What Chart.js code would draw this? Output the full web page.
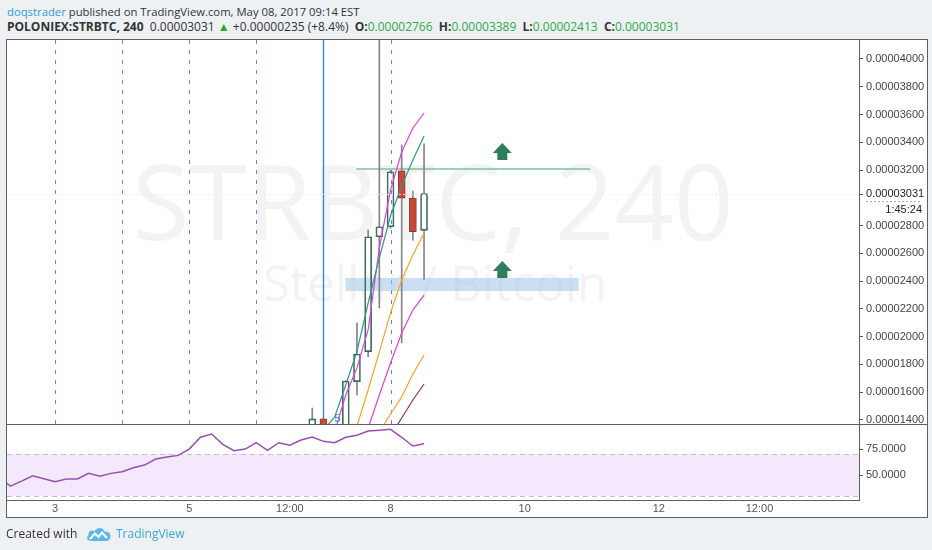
<!DOCTYPE html>
<html>
<head>
<meta charset="utf-8">
<title>POLONIEX:STRBTC, 240</title>
<script src="https://cdn.jsdelivr.net/npm/chart.js@4.4.1/dist/chart.umd.min.js"></script>
<style>
  html, body { margin: 0; padding: 0; }
  body { width: 932px; height: 550px; position: relative; overflow: hidden; background: #eef1f4;
         font-family: "Open Sans", sans-serif; color: #333; }
  .abs { position: absolute; }
  #frame { left: 6px; top: 39px; width: 922px; height: 479px; box-sizing: border-box;
           border: 1px solid #5f5f5f; background: #fff; }
  .hline { height: 1px; background: #5f5f5f; }
  .vline { width: 1px; background: #5f5f5f; }
  #head1, #head2 { left: 7px; line-height: 15px; white-space: nowrap; color: #333; }
  #head1 { top: 4px; font-size: 11.3px; }
  #head2 { top: 19px; font-size: 12px; }
  .user { color: #2f9be0; }
  .g { color: #2eaa4a; }
  .b { font-weight: 700; }
  canvas { position: absolute; left: 0; top: 0; }
  .foot { top: 525px; font-size: 12px; line-height: 18px; white-space: nowrap; color: #333; }
  .tv { color: #3ba5dc; }
  #logo { left: 86px; top: 526px; }
</style>
</head>
<body>
<div id="head1" class="abs"><span class="user">doqstrader</span> published on TradingView.com, May 08, 2017 09:14 EST</div>
<div id="head2" class="abs"><span class="b">POLONIEX:STRBTC, 240</span>&nbsp; 0.00003031 <span style="color:#1fae2a">▲</span> +0.00000235 (+8.4%) &nbsp;<span class="b">O:</span><span class="g">0.00002766</span> &nbsp;<span class="b">H:</span><span class="g">0.00003389</span> &nbsp;<span class="b">L:</span><span class="g">0.00002413</span> &nbsp;<span class="b">C:</span><span class="g">0.00003031</span></div>

<div id="frame" class="abs"></div>
<svg class="abs" style="left:0;top:0" width="932" height="550">
  <text x="433" y="240" text-anchor="middle" font-family="Open Sans" font-size="104" fill="#f3f3f3">STRBTC, 240</text>
  <text x="435" y="301" text-anchor="middle" font-family="Open Sans" font-size="49" fill="#f3f3f3">Stellar / Bitcoin</text>
</svg>
<div class="abs hline" style="left:6px;top:424px;width:922px"></div>
<div class="abs vline" style="left:859px;top:39px;height:462px"></div>
<div class="abs hline" style="left:6px;top:500px;width:854px"></div>

<canvas id="price" width="932" height="550"></canvas>
<canvas id="rsi" width="932" height="550"></canvas>

<div class="abs foot" style="left:6px">Created with</div>
<div class="abs foot tv" style="left:116px">TradingView</div>
<svg id="logo" class="abs" width="26" height="16" viewBox="0 0 26 16">
  <path d="M5 15 C1 15 0 11 2.5 9 C2 5 6 3.5 8.5 5.5 C10 1 17 0.5 18.5 5.5 C23 5 26 9 24 12.5 C23.5 14 22 15 20.5 15 Z" fill="#5cb8e6"/>
  <path d="M4 13 L9 7.5 L12.5 11 L16 6.5 L21 12" fill="none" stroke="#fff" stroke-width="2"/>
</svg>

<script>
// ---- 4h candles (hours since 3 May 2017 00:00), prices in BTC ----
const candleHours = [92, 96, 104, 108, 112, 116, 120, 124, 128, 132];
const candleOpen  = [0.00001352, 0.00001408, 0.00001330, 0.00001676, 0.00001892, 0.00002720, 0.00002792, 0.00003195, 0.00002999, 0.00002766];
const candleHigh  = [0.00001486, 0.00001412, 0.00001684, 0.00002099, 0.00002768, 0.00004500, 0.00003196, 0.00003381, 0.00003049, 0.00003389];
const candleLow   = [0.00001320, 0.00001340, 0.00001300, 0.00001580, 0.00001856, 0.00002207, 0.00002780, 0.00001955, 0.00002696, 0.00002413];
const candleClose = [0.00001408, 0.00001355, 0.00001681, 0.00001875, 0.00002720, 0.00002792, 0.00003188, 0.00002997, 0.00002756, 0.00003031];

// ---- moving-average ribbon ----
const tealHours    = [96, 100, 104, 108, 112, 116, 120, 124, 128, 132];
const tealValues   = [0.00001330, 0.00001420, 0.00001652, 0.00001895, 0.00002242, 0.00002567, 0.00002869, 0.00003085, 0.00003272, 0.00003445];
const magentaHours  = [100, 104, 108, 112, 116, 120, 124, 128, 132];
const magentaValues = [0.00001314, 0.00001580, 0.00001775, 0.00002050, 0.00002639, 0.00003056, 0.00003330, 0.00003503, 0.00003611];
const orangeHours   = [108, 112, 116, 120, 124, 128, 132];
const orangeValues  = [0.00001357, 0.00001616, 0.00001890, 0.00002171, 0.00002408, 0.00002588, 0.00002747];
const magenta2Hours  = [112, 116, 120, 124, 128, 132];
const magenta2Values = [0.00001342, 0.00001580, 0.00001810, 0.00002027, 0.00002192, 0.00002300];
const orange2Hours   = [116, 120, 124, 128, 132];
const orange2Values  = [0.00001314, 0.00001443, 0.00001566, 0.00001731, 0.00001868];
const maroonHours    = [120, 124, 128, 132];
const maroonValues   = [0.00001285, 0.00001414, 0.00001544, 0.00001659];

// ---- RSI ----
const rsiHours  = [-20, -16, -12, -8, -4, 0, 4, 8, 12, 16, 20, 24, 28, 32, 36, 40, 44, 48, 52, 56,
                   60, 64, 68, 72, 76, 80, 84, 88, 92, 96, 100, 104, 108, 112, 116, 120, 124, 128, 132];
const rsiValues = [48.0, 39.4, 44.2, 49.3, 46.4, 43.6, 46.2, 46.2, 51.6, 48.8, 51.6, 53.2, 57.0, 59.6, 65.4, 67.3, 68.9, 75.0, 86.3, 89.4,
                   79.5, 73.4, 75.0, 81.1, 73.8, 81.1, 78.6, 83.7, 86.5, 82.4, 81.1, 86.3, 88.2, 92.3, 93.0, 93.9, 86.3, 77.9, 80.1];
const rsiLevels = [30, 70];
const rsiTicks  = [50, 75];

// ---- time axis ----
const timeTickHours  = [0, 48, 84, 120, 168, 216, 252];
const timeTickLabels = ['3', '5', '12:00', '8', '10', '12', '12:00'];
const sessionHours   = [0, 24, 48, 72, 96, 120];
const sessionSolid   = 96;

// ---- drawings ----
const resistance = { from: 107.8, to: 191.4, price: 0.00003208 };
const supportZone = { from: 103.9, to: 187.3, low: 0.00002329, high: 0.00002423 };
const arrowHours  = [160, 160];
const arrowPrices = [0.00003330, 0.00002480];
const markerText = '5', markerHour = 100.0, markerPrice = 0.00001410;
const lastPrice = 0.00003031, countdown = '1:45:24';

const X_MIN = -17.2, X_MAX = 287.6;
const AXIS_FONT = { family: "'Liberation Sans', Arial, sans-serif", size: 11 };

const pts = (hs, vs) => hs.map((h, i) => ({ x: h, y: vs[i] }));
const up = candleClose.map((c, i) => c >= candleOpen[i]);

const overlays = {
  id: 'overlays',
  beforeDatasetsDraw(chart) {
    const { ctx, chartArea: a, scales: { x, y } } = chart;
    ctx.save();
    ctx.beginPath(); ctx.rect(a.left, a.top, a.right - a.left, a.bottom - a.top); ctx.clip();
    // session separators
    sessionHours.forEach(h => {
      const solid = h === sessionSolid;
      const px = Math.round(x.getPixelForValue(h)) + 0.5;
      ctx.strokeStyle = solid ? '#2f7cf6' : '#5d86d4';
      ctx.lineWidth = solid ? 1.3 : 1;
      ctx.setLineDash(solid ? [] : [4, 6]);
      ctx.beginPath(); ctx.moveTo(px, a.top); ctx.lineTo(px, a.bottom); ctx.stroke();
    });
    ctx.setLineDash([]);
    // support zone
    const zx1 = x.getPixelForValue(supportZone.from), zx2 = x.getPixelForValue(supportZone.to);
    const zy1 = y.getPixelForValue(supportZone.high), zy2 = y.getPixelForValue(supportZone.low);
    ctx.fillStyle = 'rgba(160,196,234,0.55)';
    ctx.fillRect(zx1, zy1, zx2 - zx1, zy2 - zy1);
    // resistance line
    const ry = y.getPixelForValue(resistance.price);
    ctx.strokeStyle = '#79c4a6'; ctx.lineWidth = 1.6;
    ctx.beginPath(); ctx.moveTo(x.getPixelForValue(resistance.from), ry); ctx.lineTo(x.getPixelForValue(resistance.to), ry); ctx.stroke();
    ctx.restore();
  },
  afterDatasetsDraw(chart) {
    const { ctx, chartArea: a, scales: { x, y } } = chart;
    ctx.save();
    ctx.beginPath(); ctx.rect(a.left, a.top, a.right - a.left, a.bottom - a.top); ctx.clip();
    // last price line
    const ly = Math.round(y.getPixelForValue(lastPrice)) + 0.5;
    ctx.strokeStyle = 'rgba(236,236,236,0.9)'; ctx.lineWidth = 1; ctx.setLineDash([2, 2]);
    ctx.beginPath(); ctx.moveTo(a.left, ly); ctx.lineTo(a.right, ly); ctx.stroke();
    ctx.setLineDash([]);
    // arrows
    ctx.fillStyle = '#2f7d5c';
    arrowHours.forEach((h, i) => {
      const cx = x.getPixelForValue(h), cy = y.getPixelForValue(arrowPrices[i]);
      ctx.beginPath();
      ctx.moveTo(cx, cy - 9);
      ctx.lineTo(cx + 9.5, cy + 1);
      ctx.lineTo(cx + 5, cy + 1);
      ctx.lineTo(cx + 5, cy + 8);
      ctx.lineTo(cx - 5, cy + 8);
      ctx.lineTo(cx - 5, cy + 1);
      ctx.lineTo(cx - 9.5, cy + 1);
      ctx.closePath(); ctx.fill();
    });
    // marker label
    ctx.fillStyle = '#3f7fd6';
    ctx.font = "11px 'Liberation Sans', Arial, sans-serif";
    ctx.textBaseline = 'middle';
    ctx.fillText(markerText, x.getPixelForValue(markerHour), y.getPixelForValue(markerPrice));
    ctx.restore();
  },
  afterDraw(chart) {
    const { ctx, chartArea: a, scales: { y } } = chart;
    const py = y.getPixelForValue(lastPrice);
    ctx.save();
    ctx.strokeStyle = '#555'; ctx.lineWidth = 1;
    ctx.beginPath(); ctx.moveTo(a.right, Math.round(py) + 0.5); ctx.lineTo(a.right + 4, Math.round(py) + 0.5); ctx.stroke();
    ctx.font = "11px 'Liberation Sans', Arial, sans-serif";
    ctx.textBaseline = 'middle';
    ctx.fillStyle = '#222';
    ctx.textAlign = 'left';
    ctx.fillText(lastPrice.toFixed(8), a.right + 7, py);
    ctx.textAlign = 'right';
    ctx.fillText(countdown, a.right + 63, py + 16);
    ctx.strokeStyle = '#aaa'; ctx.setLineDash([2, 2]);
    ctx.beginPath(); ctx.moveTo(a.right + 7, Math.round(py) + 7.5); ctx.lineTo(a.right + 63, Math.round(py) + 7.5); ctx.stroke();
    ctx.restore();
  }
};

const lineSet = (hs, vs, color) => ({
  type: 'line', data: pts(hs, vs), borderColor: color, borderWidth: 1.2,
  pointRadius: 0, tension: 0, fill: false, order: 0
});

new Chart(document.getElementById('price'), {
  type: 'bar',
  data: {
    datasets: [
      lineSet(tealHours, tealValues, '#2f9a80'),
      lineSet(magentaHours, magentaValues, '#e43fe6'),
      lineSet(orangeHours, orangeValues, '#f6a524'),
      lineSet(magenta2Hours, magenta2Values, '#e43fe6'),
      lineSet(orange2Hours, orange2Values, '#f6a524'),
      lineSet(maroonHours, maroonValues, '#8e3a46'),
      {
        type: 'bar', order: 1, grouped: false, barThickness: 7, borderWidth: 1, borderSkipped: false,
        data: candleHours.map((h, i) => ({ x: h, y: [candleOpen[i], candleClose[i]] })),
        backgroundColor: up.map(u => u ? 'rgba(255,255,255,0)' : '#c9483a'),
        borderColor: up.map(u => u ? '#3b6d58' : '#8a3a2e')
      },
      {
        type: 'bar', order: 2, grouped: false, barThickness: 1, borderWidth: 0,
        data: candleHours.map((h, i) => ({ x: h, y: [Math.max(candleOpen[i], candleClose[i]), candleHigh[i]] })),
        backgroundColor: '#858585'
      },
      {
        type: 'bar', order: 2, grouped: false, barThickness: 1, borderWidth: 0,
        data: candleHours.map((h, i) => ({ x: h, y: [candleLow[i], Math.min(candleOpen[i], candleClose[i])] })),
        backgroundColor: '#858585'
      }
    ]
  },
  options: {
    responsive: false, animation: false, devicePixelRatio: 1, events: [],
    layout: { padding: { left: 7, top: 40, right: 4, bottom: 126 } },
    plugins: { legend: { display: false }, tooltip: { enabled: false } },
    scales: {
      x: { type: 'linear', min: X_MIN, max: X_MAX, offset: false, display: false },
      y: {
        type: 'linear', position: 'right', min: 0.0000137110, max: 0.0000413680,
        afterFit(s) { s.width = 69; },
        afterBuildTicks(s) { s.ticks = s.ticks.filter(t => Math.abs(t.value - lastPrice) > 0.000001); },
        ticks: { stepSize: 0.000002, includeBounds: false, color: '#444', font: AXIS_FONT, padding: 3,
                 callback: v => v.toFixed(8) },
        grid: { drawOnChartArea: false, tickLength: 4, color: '#555' },
        border: { display: false }
      }
    }
  },
  plugins: [overlays]
});

const rsiBand = {
  id: 'rsiBand',
  beforeDatasetsDraw(chart) {
    const { ctx, chartArea: a, scales: { y } } = chart;
    const y1 = y.getPixelForValue(rsiLevels[1]), y0 = y.getPixelForValue(rsiLevels[0]);
    ctx.save();
    ctx.fillStyle = '#f4e8fc';
    ctx.fillRect(a.left, y1, a.right - a.left, y0 - y1);
    ctx.strokeStyle = '#c6bccb'; ctx.lineWidth = 1; ctx.setLineDash([5, 4]);
    [y1, y0].forEach(py => {
      ctx.beginPath(); ctx.moveTo(a.left, Math.round(py) + 0.5); ctx.lineTo(a.right, Math.round(py) + 0.5); ctx.stroke();
    });
    ctx.restore();
  }
};

new Chart(document.getElementById('rsi'), {
  type: 'line',
  data: { datasets: [{ data: pts(rsiHours, rsiValues), borderColor: '#9b4db4', borderWidth: 1.5, pointRadius: 0, tension: 0, fill: false }] },
  options: {
    responsive: false, animation: false, devicePixelRatio: 1, events: [],
    layout: { padding: { left: 7, top: 425, right: 4, bottom: 33 } },
    plugins: { legend: { display: false }, tooltip: { enabled: false } },
    scales: {
      x: {
        type: 'linear', min: X_MIN, max: X_MAX, offset: false,
        afterFit(s) { s.height = 17; },
        afterBuildTicks(s) { s.ticks = timeTickHours.map(v => ({ value: v })); },
        ticks: { color: '#555', font: AXIS_FONT, padding: 2, autoSkip: false, maxRotation: 0,
                 callback: (v, i) => timeTickLabels[i] },
        grid: { display: false, drawTicks: false },
        border: { display: false }
      },
      y: {
        type: 'linear', position: 'right', min: 26, max: 98.1,
        afterFit(s) { s.width = 69; },
        afterBuildTicks(s) { s.ticks = rsiTicks.map(v => ({ value: v })); },
        ticks: { color: '#444', font: AXIS_FONT, padding: 3, callback: v => v.toFixed(4) },
        grid: { drawOnChartArea: false, tickLength: 4, color: '#555' },
        border: { display: false }
      }
    }
  },
  plugins: [rsiBand]
});
</script>
</body>
</html>
